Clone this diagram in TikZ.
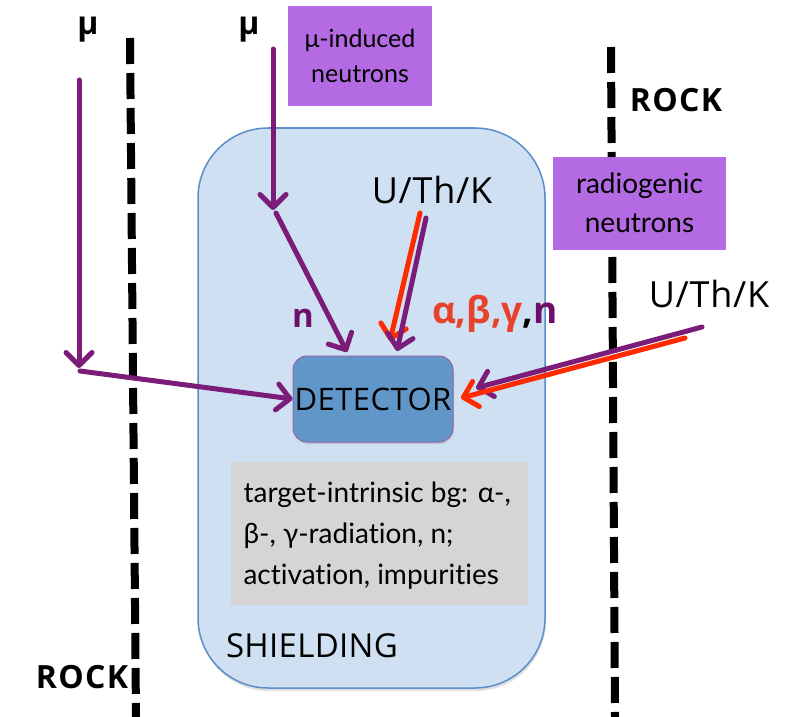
\documentclass[tikz,border=0pt]{standalone}
\usepackage{fontspec}
\setmainfont{Lato}[Ligatures=NoCommon]
\newfontfamily\capfont{Open Sans}
\usetikzlibrary{arrows.meta,shadows,calc}

\definecolor{muon}{HTML}{7A1C78}
\definecolor{radio}{HTML}{FF2A00}
\definecolor{greekred}{HTML}{E8412C}
\definecolor{npurple}{HTML}{6B0F6B}
\definecolor{shieldfill}{HTML}{CFE0F2}
\definecolor{shieldline}{HTML}{5B8FCB}
\definecolor{detfill}{HTML}{6196C9}
\definecolor{detline}{HTML}{9166A8}
\definecolor{tagfill}{HTML}{B36AE2}
\definecolor{bgfill}{HTML}{D5D5D5}

\tikzset{
  rockline/.style={line width=8pt, dash pattern=on 26pt off 9pt, black},
  barb/.style={-{Straight Barb[length=13pt,width=26pt,round]}, line width=5pt, line cap=round},
  muarrow/.style={barb, draw=muon},
  radarrow/.style={barb, draw=radio},
  tagbox/.style={fill=tagfill, inner sep=0pt, align=center},
  muonlabel/.style={font=\capfont\bfseries\fontsize{32}{32}\selectfont},
  rocklabel/.style={font=\capfont\bfseries\fontsize{32}{32}\selectfont\addfontfeature{LetterSpace=4}},
  sourcelabel/.style={font=\capfont\fontsize{36}{36}\selectfont\addfontfeature{LetterSpace=2}},
}

\begin{document}
\begin{tikzpicture}[x=1pt,y=-1pt]
\useasboundingbox (0,0) rectangle (788,717);

% shielding volume
\node[draw=shieldline, fill=shieldfill, line width=1.5pt, rounded corners=70pt,
      minimum width=347pt, minimum height=560pt, inner sep=0pt,
      drop shadow={shadow xshift=1pt, shadow yshift=-3pt, opacity=0.25}]
      (shield) at (371.5,408) {};
\node[font=\capfont\fontsize{33}{33}\selectfont\addfontfeature{LetterSpace=1}] (shieldlabel) at (312,646) {SHIELDING};

% intrinsic background note
\node[fill=bgfill, minimum width=297pt, minimum height=143pt, inner sep=0pt] (bgbox) at (379.5,533.5) {};
\node[anchor=west, align=left, font=\fontsize{28}{41}\selectfont] (bgtext) at (240,536)
  {target-intrinsic bg: α-,\\β-, γ-radiation, n;\\activation, impurities};

% detector
\node[draw=detline, fill=detfill, line width=1pt, rounded corners=14pt,
      minimum width=160pt, minimum height=86pt, inner sep=0pt,
      drop shadow={shadow xshift=1pt, shadow yshift=-2pt, opacity=0.25},
      font=\capfont\fontsize{31}{31}\selectfont\addfontfeature{LetterSpace=1.5}] (det) at (373,399) {DETECTOR};

% rock boundaries
\draw[rockline] (130,38) -- (136,717);
\draw[rockline] (611,47) -- (615,717);
\node[rocklabel] (rockR) at (676,100) {ROCK};
\node[rocklabel] (rockL) at (82,677) {ROCK};

% neutron source tags
\node[tagbox, minimum width=144pt, minimum height=100pt, font=\fontsize{25}{35}\selectfont]
  (mutag) at (360,56) {μ-induced\\neutrons};
\node[tagbox, minimum width=173pt, minimum height=93pt, font=\fontsize{28}{39}\selectfont]
  (radtag) at (639.5,203) {radiogenic\\neutrons};

% labels
\node[muonlabel] (mu1) at (88,30) {μ};
\node[muonlabel] (mu2) at (249,30) {μ};
\node[sourcelabel] (uthk1) at (432,190) {U/Th/K};
\node[sourcelabel] (uthk2) at (709,294) {U/Th/K};
\node[font=\capfont\bfseries\fontsize{33}{33}\selectfont, text=npurple] (nlab) at (303,318) {n};
\node[font=\capfont\bfseries\fontsize{37}{37}\selectfont] (radlab) at (495,314)
  {\textcolor{greekred}{α,β,γ}\textcolor{black}{,}\textcolor{npurple}{n}};

% path coordinates
\coordinate (mu1top) at (79,80);
\coordinate (mu1bend) at (79,368);
\coordinate (mu1start) at (80,371);
\coordinate (mu2top) at (273,49);
\coordinate (mu2bend) at (273,210);
\coordinate (mu2start) at (276,213);
\coordinate (ntip) at (347,352);
\coordinate (rad1red) at (420,213);
\coordinate (rad1redtip) at (390,341);
\coordinate (rad1pur) at (426,218);
\coordinate (rad1purtip) at (397,351);
\coordinate (rad2pur) at (702,327);
\coordinate (rad2purtip) at (476,388);
\coordinate (rad2red) at (685,338);
\coordinate (rad2redtip) at (461,398);

% muons through the rock
\draw[muarrow] (mu1top) -- (mu1bend);
\draw[muarrow] (mu1start) -- (det.west);
\draw[muarrow] (mu2top) -- (mu2bend);
\draw[muarrow] (mu2start) -- (ntip);

% radioactivity of the shielding
\draw[radarrow] (rad1red) -- (rad1redtip);
\draw[muarrow] (rad1pur) -- (rad1purtip);

% radioactivity of the rock
\draw[muarrow] (rad2pur) -- (rad2purtip);
\draw[radarrow] (rad2red) -- (rad2redtip);
\end{tikzpicture}
\end{document}
